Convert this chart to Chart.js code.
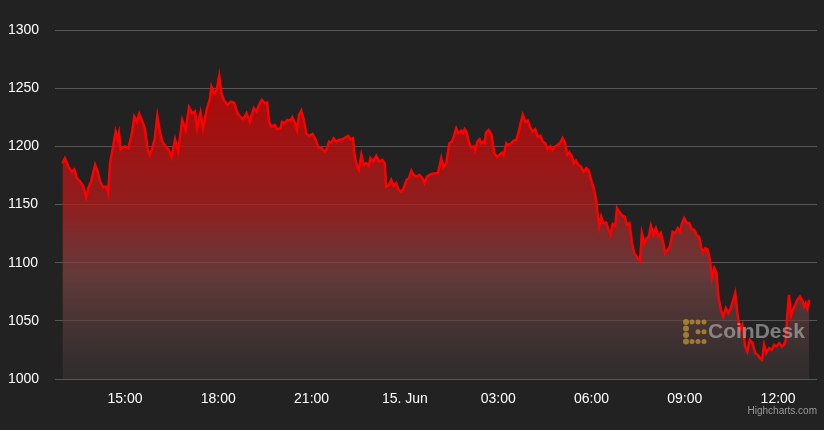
<!DOCTYPE html>
<html>
<head>
<meta charset="utf-8">
<script src="https://cdn.jsdelivr.net/npm/chart.js@4/dist/chart.umd.min.js"></script>
<style>
  html, body { margin: 0; padding: 0; background: #222222; }
  canvas { display: block; }
</style>
</head>
<body>
<canvas id="chart" width="824" height="430"></canvas>
<script>
// hours since 00:00 on 14 Jun (24 = midnight, 15 Jun)
const times = [
  12.99,13.07,13.18,13.29,13.37,13.45,13.56,13.66,13.75,13.82,
  13.91,14.04,14.12,14.20,14.30,14.41,14.46,14.52,14.62,14.70,
  14.77,14.81,14.86,15.00,15.11,15.22,15.30,15.38,15.46,15.56,
  15.64,15.73,15.80,15.88,15.96,16.04,16.12,16.20,16.31,16.39,
  16.50,16.61,16.71,16.84,16.95,17.06,17.16,17.25,17.32,17.43,
  17.51,17.62,17.73,17.78,17.87,17.95,18.03,18.10,18.19,18.30,
  18.40,18.51,18.62,18.69,18.80,18.91,19.01,
  19.14,19.23,19.31,19.40,19.50,19.57,19.63,19.71,19.82,19.89,
  20.00,20.05,20.14,20.21,20.30,20.38,20.46,20.53,20.60,20.67,
  20.75,20.83,20.92,21.03,21.13,21.21,21.32,21.42,21.50,21.56,
  21.64,21.71,21.80,21.88,21.99,22.10,22.18,22.25,22.33,22.39,
  22.46,22.52,22.60,22.67,22.76,22.84,22.89,22.97,23.08,23.17,
  23.27,23.35,23.40,23.49,23.56,23.64,23.72,23.80,23.88,23.96,
  24.05,24.13,24.21,24.28,24.37,24.47,24.56,24.63,24.71,24.85,
  24.99,25.06,25.11,25.17,25.24,25.33,
  25.43,25.51,25.57,25.65,25.72,25.81,25.86,25.92,25.98,26.05,
  26.13,26.22,26.26,26.33,26.40,26.45,26.51,26.56,26.61,26.69,
  26.78,26.83,26.88,26.97,27.04,27.12,27.18,27.26,27.33,27.42,
  27.50,27.58,27.65,27.72,27.79,27.87,27.95,28.04,28.11,28.19,
  28.27,28.36,28.43,28.51,28.59,28.68,28.75,28.83,28.91,29.00,
  29.07,29.15,29.22,29.29,29.36,29.43,29.50,29.58,29.66,29.75,
  29.83,29.90,29.99,30.07,30.15,30.20,30.25,30.31,30.38,30.47,
  30.54,30.61,30.68,30.76,30.82,30.89,30.97,31.06,31.14,31.22,
  31.30,31.38,31.48,31.56,31.62,31.70,31.77,31.84,31.91,31.99,
  32.07,32.16,32.23,32.31,32.37,32.45,32.52,32.61,32.69,32.77,
  32.84,32.91,32.98,33.06,33.14,33.23,33.30,33.38,33.46,33.52,
  33.59,33.66,33.73,33.81,33.87,33.95,34.02,34.08,34.16,34.23,
  34.32,34.40,34.48,34.56,34.62,34.69,34.77,34.85,34.94,35.01,
  35.09,35.18,35.26,35.34,35.41,35.48,35.55,35.62,35.71,35.80,
  35.87,35.95,36.03,36.12,36.19,36.25,36.30,36.35,36.41,36.48,
  36.55,36.62,36.70,36.76,36.84,36.89,36.94,37.00
];
const prices = [
  1185.5,1189.8,1182.6,1178,1180,1172.6,1169.7,1165.4,1156.3,1164,
  1169.7,1184,1178,1169.7,1165,1165.4,1160,1185.5,1200,1212.6,
  1205.5,1211,1197.5,1200,1198.4,1210.7,1225.5,1221,1227.8,1221,
  1215.5,1197,1192.6,1198.4,1207,1226,1212.6,1204,1200,1197.5,
  1191,1206,1195.5,1222.7,1214,1233.6,1228.4,1230,1215.5,1229,
  1215.5,1231,1240.5,1251.3,1245.6,1248.5,1260.5,1245.6,1239.3,1235.6,
  1238.4,1237.5,1228.4,1226,1223.3,1228.4,1221,
  1232.7,1230,1235.6,1239.9,1237,1237.5,1221,1217,1218.4,1214.7,
  1215.5,1221,1219.8,1222.7,1221.8,1225,1220.4,1214,1227,1230.7,
  1222.7,1210.7,1209,1210.7,1205.5,1199.2,1198.4,1195.5,1198.4,1204,
  1203.2,1207,1204,1205.5,1206,1207.8,1209,1206,1207,1191,
  1182.6,1179.7,1192.6,1184,1185.5,1183.2,1189.8,1186.9,1191.8,1186.9,
  1188.3,1185.5,1165.4,1166.8,1171.1,1166,1168.3,1162.5,1161,1164,
  1171.1,1172.6,1179.1,1175.4,1174,1175.4,1172.6,1168.3,1174,1176.3,
  1176.9,1176.9,1182.6,1189.8,1182,1185.5,
  1202.7,1204,1208.3,1215.5,1211.3,1213.5,1211.3,1214.7,1212.6,1204,
  1199.2,1199.8,1196.3,1204,1206,1202.7,1204,1202.7,1211.8,1214,
  1210.4,1201.2,1194.1,1190.6,1192.6,1194.6,1192.6,1202.7,1201.2,1202.7,
  1204.9,1205.5,1211.3,1219.8,1227,1221,1222,1215.5,1212.6,1214.7,
  1208.3,1209,1204,1202.7,1197.5,1200,1196.7,1199.8,1201.2,1203.2,
  1207,1202.7,1192.6,1194.6,1191.8,1185.5,1187.7,1184,1182.6,1178.3,
  1181.2,1179.7,1171.1,1164,1154,1141,1131,1139.6,1134,1134.5,
  1128.8,1123.9,1133.3,1131.6,1146.8,1143.9,1141,1139.6,1132.5,1134,
  1116.7,1108,1103.9,1101,1125.3,1116.7,1120.8,1122.2,1131.6,1123.9,
  1129.6,1122.2,1125.3,1116.7,1108,1111,1113.8,1126.6,1125.3,1129.6,
  1126.6,1134,1138.2,1134,1134,1128.8,1128.2,1123.9,1122.2,1113.8,
  1108.6,1112.4,1111.5,1102.4,1086.7,1095.3,1091,1070.9,1059.5,1053.7,
  1060.9,1056.6,1060.9,1068,1073.8,1056.6,1042.3,1046.6,1028,1023.6,
  1033.7,1030.8,1022.3,1020.8,1018,1016.5,1029.4,1022.3,1026.5,1025.1,
  1029.4,1028,1030.8,1028,1029.4,1033.7,1056.6,1072.3,1053.7,1059.5,
  1063.8,1068,1070.9,1068,1062.3,1065.2,1060.9,1068
];
const tickHours = [15, 18, 21, 24, 27, 30, 33, 36];
const tickLabels = ['15:00', '18:00', '21:00', '15. Jun', '03:00', '06:00', '09:00', '12:00'];

const points = [];
for (let i = 0; i < Math.min(times.length, prices.length); i++) {
  points.push({ x: times[i], y: prices[i] });
}

const font = "'Liberation Sans', Arial, sans-serif";

// area gradient, red at top fading to grey
function areaFill(context) {
  const area = context.chart.chartArea;
  if (!area) return 'rgba(180,0,0,0.8)';
  const g = context.chart.ctx.createLinearGradient(0, area.top, 0, area.bottom);
  g.addColorStop(0, 'rgba(200,4,4,0.88)');
  g.addColorStop(0.2, 'rgba(194,8,8,0.85)');
  g.addColorStop(0.5, 'rgba(173,29,29,0.8)');
  g.addColorStop(0.7, 'rgba(128,68,68,0.7)');
  g.addColorStop(1, 'rgba(60,56,56,0.5)');
  return g;
}

// CoinDesk watermark + credits
const extras = {
  id: 'extras',
  afterDatasetsDraw(chart) {
    const ctx = chart.ctx;
    ctx.save();
    ctx.fillStyle = 'rgba(190,150,50,0.75)';
    const dots = [[0,0],[1,0],[2,0],[3,0],[0,1],[0,2],[0,3],[1,3],[2,3],[3,3],[2,1.5],[3,1.5]];
    dots.forEach(d => {
      ctx.beginPath();
      ctx.arc(686 + d[0] * 6, 322 + d[1] * 6.5, d[0] === 0 ? 3 : 2.5, 0, Math.PI * 2);
      ctx.fill();
    });
    ctx.fillStyle = 'rgba(200,200,200,0.55)';
    ctx.font = 'bold 21px ' + font;
    ctx.textBaseline = 'middle';
    ctx.fillText('CoinDesk', 708, 332);
    ctx.restore();
  },
  afterDraw(chart) {
    const ctx = chart.ctx;
    ctx.save();
    ctx.fillStyle = '#999999';
    ctx.font = '10px ' + font;
    ctx.textAlign = 'right';
    ctx.textBaseline = 'middle';
    ctx.fillText('Highcharts.com', 817, 411);
    ctx.restore();
  }
};

new Chart(document.getElementById('chart'), {
  type: 'line',
  data: {
    datasets: [{
      data: points,
      borderColor: '#ff0000',
      borderWidth: 2.5,
      pointRadius: 0,
      tension: 0,
      fill: 'start',
      backgroundColor: areaFill
    }]
  },
  options: {
    responsive: false,
    animation: false,
    devicePixelRatio: 1,
    layout: { padding: { left: 8, right: 7, top: 30, bottom: 0 } },
    plugins: { legend: { display: false }, tooltip: { enabled: false } },
    scales: {
      x: {
        type: 'linear',
        min: 12.75,
        max: 37.25,
        afterBuildTicks: axis => { axis.ticks = tickHours.map(v => ({ value: v })); },
        afterFit: axis => { axis.height = 51; },
        ticks: {
          color: '#ffffff',
          font: { family: font, size: 14 },
          padding: 4,
          maxRotation: 0,
          autoSkip: false,
          callback: v => tickLabels[tickHours.indexOf(v)]
        },
        grid: { display: false },
        border: { display: false }
      },
      y: {
        min: 1000,
        max: 1300,
        afterFit: axis => { axis.width = 47; },
        ticks: {
          stepSize: 50,
          color: '#ffffff',
          font: { family: font, size: 14 },
          crossAlign: 'far',
          callback: v => String(v)
        },
        grid: { color: '#555555', drawTicks: false },
        border: { display: false }
      }
    }
  },
  plugins: [extras]
});
</script>
</body>
</html>
